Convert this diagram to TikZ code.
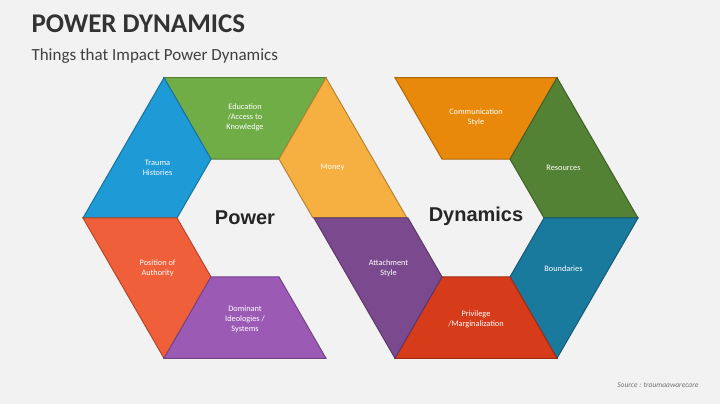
\documentclass[tikz,border=0pt]{standalone}
\usepackage{fontspec}
\setmainfont{Carlito}
\newfontfamily\heavy{Liberation Sans}
\usetikzlibrary{calc}

\definecolor{bgGray}{HTML}{F2F2F2}
\definecolor{eduGreen}{HTML}{70AD47}
\definecolor{moneyOrange}{HTML}{F5B041}
\definecolor{traumaBlue}{HTML}{1E9AD6}
\definecolor{posRed}{HTML}{EF5F3A}
\definecolor{domPurple}{HTML}{9B5BB5}
\definecolor{commOrange}{HTML}{E8890C}
\definecolor{resGreen}{HTML}{548235}
\definecolor{bndTeal}{HTML}{1A7A9E}
\definecolor{privRed}{HTML}{D63B1A}
\definecolor{attPurple}{HTML}{7B4A8E}

\tikzset{
	piece/.style={fill=#1, draw=#1!75!black, line width=1pt, line join=miter},
	lbl/.style={text=white, font=\fontsize{8.3}{10}\selectfont, align=center},
	hub/.style={font=\heavy\bfseries\fontsize{20}{22}\selectfont, text=black!85}
}

\begin{document}
\begin{tikzpicture}[x=1pt, y=1pt]
	\useasboundingbox[fill=bgGray] (0,0) rectangle (720,404);
	\coordinate (Lc) at (245,186);
	\coordinate (Rc) at (476,186);

	% left ring
	\foreach \a/\c/\t/\n in {60/eduGreen/{Education\\/Access to\\Knowledge}/edu,
							0/moneyOrange/Money/money,
							120/traumaBlue/{Trauma\\Histories}/trauma,
							180/posRed/{Position of\\Authority}/pos,
							240/domPurple/{Dominant\\Ideologies /\\Systems}/dom}{
		\draw[piece=\c] ($(Lc)+(\a:162)$) -- ($(Lc)+(\a+60:162)$) -- ($(Lc)+(\a+60:68)$) -- ($(Lc)+(\a:68)$) -- cycle;
		\node[lbl] (\n) at ($(Lc)+(\a+30:101)$) {\t};
	}

	% right ring
	\foreach \a/\c/\t/\n in {60/commOrange/{Communication\\Style}/comm,
							0/resGreen/Resources/res,
							300/bndTeal/Boundaries/bnd,
							240/privRed/{Privilege\\/Marginalization}/priv,
							180/attPurple/{Attachment\\Style}/att}{
		\draw[piece=\c] ($(Rc)+(\a:162)$) -- ($(Rc)+(\a+60:162)$) -- ($(Rc)+(\a+60:68)$) -- ($(Rc)+(\a:68)$) -- cycle;
		\node[lbl] (\n) at ($(Rc)+(\a+30:101)$) {\t};
	}

	\node[hub] (power) at (Lc) {Power};
	\node[hub] (dyn) at ($(Rc)+(0,2)$) {Dynamics};

	\node[anchor=west, font=\bfseries\fontsize{27}{30}\selectfont, text=black!80] (title) at (28,380) {POWER DYNAMICS};
	\node[anchor=west, font=\fontsize{17}{19}\selectfont, text=black!75] (sub) at (28,348) {Things that Impact Power Dynamics};
	\node[anchor=east, font=\itshape\fontsize{7.5}{9}\selectfont, text=black!55] (src) at (702,19) {Source : traumaawarecare};
\end{tikzpicture}
\end{document}
